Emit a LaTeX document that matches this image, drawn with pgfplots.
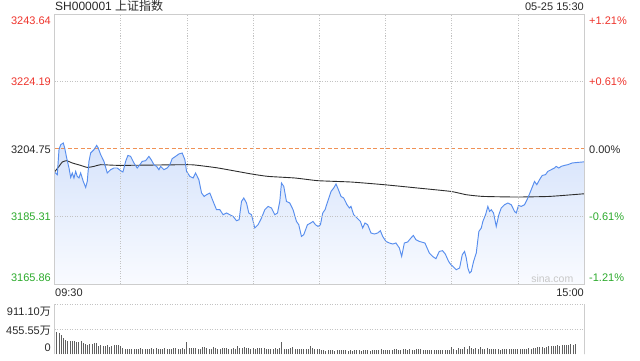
\documentclass[border=0pt]{standalone}
\usepackage{pgfplots}
\pgfplotsset{compat=1.18}
\usepackage{pgfplotstable}
\usepackage{fontspec}
\setmainfont{Liberation Sans}
\newfontfamily\cjk{Noto Sans CJK SC}
\definecolor{upred}{RGB}{238,52,44}
\definecolor{dngreen}{RGB}{44,170,44}
\definecolor{txt}{RGB}{40,40,40}
\definecolor{bordergray}{RGB}{205,205,205}
\definecolor{gridgray}{RGB}{195,195,195}
\definecolor{lineblue}{RGB}{88,142,238}
\definecolor{fillTop}{RGB}{214,227,251}
\definecolor{fillBot}{RGB}{249,251,255}
\definecolor{prevorange}{RGB}{240,145,85}
\definecolor{volgray}{RGB}{95,95,95}
\definecolor{avgline}{RGB}{45,45,45}
\definecolor{wm}{RGB}{200,200,200}

\pgfplotstableread{
m p
0 3198.12
1.27 3197.35
2.04 3204.55
2.81 3205.99
3.98 3206.48
4.62 3205.04
5.52 3202.16
6.57 3199.28
7.34 3196.57
8.06 3197.84
8.83 3196.40
9.60 3198.30
10.32 3196.86
11.09 3196.40
11.86 3197.84
13.04 3195.42
14.13 3193.69
14.85 3195.42
15.62 3201.18
16.39 3203.60
17.89 3204.55
19.11 3205.79
19.83 3205.04
20.92 3203.11
22.41 3201.18
23.91 3197.84
25.45 3198.79
26.94 3199.28
28.44 3199.28
29.98 3198.50
31.02 3198.12
32.24 3201.18
33.28 3202.91
34.50 3202.62
36.00 3200.72
37.49 3199.28
38.71 3200.23
39.76 3201.18
41.30 3201.38
42.79 3202.62
43.83 3201.67
45.05 3200.23
46.28 3199.74
47.32 3198.79
48.09 3199.74
49.58 3198.79
51.08 3199.28
52.30 3200.23
53.34 3201.96
54.88 3202.62
56.37 3203.31
57.87 3203.60
59.09 3201.67
59.86 3198.30
61.35 3196.86
62.85 3196.40
63.93 3197.84
65.43 3195.91
66.65 3192.07
67.83 3191.09
68.92 3191.58
70.41 3192.07
71.90 3189.65
73.44 3187.26
74.94 3187.26
76.43 3185.82
77.97 3186.31
79.47 3185.82
80.96 3185.33
82.50 3184.09
83.68 3184.38
84.76 3189.65
85.80 3190.63
87.03 3189.19
88.07 3186.31
89.29 3185.82
90.79 3181.99
92.28 3182.94
93.82 3184.87
95.32 3187.26
96.81 3188.21
98.35 3187.75
99.84 3185.82
101.07 3186.31
102.11 3189.65
102.88 3194.95
103.92 3193.98
105.14 3189.65
106.64 3189.19
108.13 3187.26
109.67 3183.89
110.71 3182.94
111.93 3179.57
112.97 3180.06
114.65 3182.94
116.14 3183.43
117.18 3183.89
118.27 3182.94
119.45 3182.45
120.54 3182.94
121.58 3186.31
122.62 3187.26
123.84 3189.65
125.34 3192.53
126.56 3193.51
127.60 3194.67
128.69 3193.02
129.86 3191.09
131.08 3190.63
132.58 3188.70
133.66 3187.75
134.39 3188.21
135.61 3185.82
137.11 3184.87
138.65 3183.89
139.69 3181.99
140.73 3183.43
141.95 3182.94
143.45 3180.55
144.99 3180.26
146.48 3180.55
147.70 3181.21
148.75 3179.57
150.24 3178.13
151.78 3177.67
153.27 3177.38
154.77 3177.67
156.31 3176.23
157.35 3173.81
158.57 3177.67
160.06 3177.96
161.56 3179.11
162.64 3179.86
163.82 3178.62
165.36 3178.13
167.89 3177.67
169.89 3174.79
171.38 3173.81
172.88 3173.15
174.42 3175.25
175.91 3175.45
177.13 3174.50
178.63 3172.37
179.67 3171.42
180.58 3170.93
182.11 3169.98
183.61 3170.47
184.83 3174.30
185.87 3175.25
186.64 3173.35
187.37 3170.47
188.14 3169.03
188.91 3169.49
189.95 3172.37
191.17 3174.79
192.35 3181.01
193.44 3181.99
194.16 3183.89
195.38 3185.82
196.43 3188.21
197.20 3186.77
197.96 3187.26
199.00 3186.31
200.23 3182.45
201.40 3185.82
202.49 3187.75
203.99 3188.70
205.48 3189.19
207.02 3188.70
208.51 3186.77
209.28 3186.31
210.32 3188.50
211.55 3188.21
213.04 3188.70
214.54 3190.63
216.08 3193.02
217.57 3195.42
218.61 3194.46
219.84 3195.91
221.06 3197.14
222.55 3197.35
223.59 3198.30
225.13 3198.79
226.63 3199.28
227.40 3199.74
228.57 3199.28
229.66 3199.74
231.16 3200.03
232.65 3200.23
234.64 3200.72
237.18 3200.89
239.17 3201.00
240 3201.05
}\pricedata

\pgfplotstableread{
m p
0 3198.12
2.04 3199.74
3.53 3201.00
5.52 3201.38
8.06 3200.72
11.86 3200.03
14.85 3199.45
17.89 3199.74
20.92 3200.23
29.98 3200.03
60.14 3200.23
65.11 3200.03
74.17 3199.28
89.29 3197.55
96.81 3196.86
108.90 3196.40
119.45 3195.62
134.39 3195.24
149.52 3194.46
164.60 3193.51
179.67 3192.53
186.64 3191.58
194.16 3191.09
209.28 3190.92
224.36 3191.09
240 3191.85
}\avgdata

\pgfplotstableread{
v
911
413
383
352
290
262
250
245
240
232
228
215
240
205
180
175
190
195
200
205
150
160
150
158
170
140
150
165
160
175
150
110
105
100
98
92
100
105
98
110
102
98
105
102
108
100
110
105
95
100
120
100
105
98
110
108
100
102
115
105
230
115
108
120
112
105
100
135
125
108
100
98
140
110
102
105
120
115
110
100
102
108
100
150
118
110
130
112
120
105
108
100
120
110
112
115
100
105
98
102
110
100
108
230
95
100
102
110
140
98
90
95
98
105
92
100
150
110
95
100
102
80
72
68
85
78
70
65
82
70
72
78
74
62
70
66
75
72
80
64
76
70
74
68
80
72
78
70
88
80
72
85
72
78
95
88
80
76
100
92
74
90
85
80
98
88
95
78
82
74
78
85
76
80
72
78
74
76
82
80
125
90
85
110
88
95
130
100
150
110
95
120
98
125
105
90
110
98
92
88
95
90
85
92
88
100
95
90
98
105
92
100
96
105
98
110
104
120
112
130
125
140
118
135
150
142
155
148
165
150
170
160
175
165
180
170
190
0
0
0
335
}\voldata

\begin{document}
\begin{tikzpicture}
\useasboundingbox (0pt,0pt) rectangle (640pt,360pt);

% ---------- price panel ----------
\begin{axis}[
  at={(54.5pt,76pt)}, anchor=south west,
  scale only axis, width=529.5pt, height=270pt,
  xmin=0, xmax=240, ymin=3165.86, ymax=3243.64,
  axis line style={bordergray, line width=0.8pt},
  xtick={30,60,90,120,150,180,210}, xticklabels={},
  ytick={3185.31,3224.19}, yticklabels={},
  major tick length=0pt,
  xmajorgrids, ymajorgrids,
  grid style={gridgray, dash pattern=on 1pt off 1.5pt, line width=0.6pt},
  axis on top,
]
\addplot[top color=fillTop, bottom color=fillBot, draw=none, forget plot] table[x=m, y=p] {\pricedata} -- (axis cs:240,3165.86) -- (axis cs:0,3165.86) -- cycle;
\addplot[prevorange, line width=1pt, dash pattern=on 4pt off 2.5pt, forget plot] coordinates {(0,3204.75) (240,3204.75)};
\addplot[avgline, line width=0.9pt, smooth, tension=0.3, forget plot] table[x=m, y=p] {\avgdata};
\addplot[lineblue, line width=0.95pt, forget plot] table[x=m, y=p] {\pricedata};
\end{axis}

% ---------- volume panel ----------
\begin{axis}[
  at={(54.5pt,5.7pt)}, anchor=south west,
  scale only axis, width=529.5pt, height=50.3pt,
  xmin=0, xmax=240, ymin=0, ymax=911.1,
  axis line style={draw=none},
  xtick=\empty,
  ytick={455.55,911.1}, yticklabels={},
  major tick length=0pt,
  ymajorgrids,
  grid style={gridgray, dash pattern=on 1pt off 1.5pt, line width=0.6pt},
]
\addplot[ycomb, volgray, line width=0.8pt, mark=none, forget plot] table[x expr=\coordindex, y=v] {\voldata};
\end{axis}
\draw[bordergray, line width=0.8pt] (54.5pt,5.7pt) -- (54.5pt,56pt);
\draw[bordergray, line width=0.8pt] (584pt,5.7pt) -- (584pt,56pt);

% ---------- texts ----------
\begin{scope}[every node/.style={inner sep=0pt, font=\fontsize{11}{13}\selectfont}]
\node[anchor=base west, text=txt, font=\fontsize{12}{14}\selectfont] at (55pt,349.3pt) {SH000001 {\cjk 上证指数}};
\node[anchor=base east, text=txt] at (584pt,349.3pt) {05-25 15:30};

\node[anchor=base east, text=upred] at (51pt,336pt) {3243.64};
\node[anchor=east, text=upred] at (51pt,278.4pt) {3224.19};
\node[anchor=east, text=txt] at (51pt,210.7pt) {3204.75};
\node[anchor=east, text=dngreen] at (51pt,143pt) {3185.31};
\node[anchor=base east, text=dngreen] at (51pt,79pt) {3165.86};

\node[anchor=base west, text=upred] at (589pt,336pt) {+1.21\%};
\node[anchor=west, text=upred] at (589pt,278.4pt) {+0.61\%};
\node[anchor=west, text=txt] at (589pt,210.7pt) {0.00\%};
\node[anchor=west, text=dngreen] at (589pt,143pt) {-0.61\%};
\node[anchor=base west, text=dngreen] at (589pt,79pt) {-1.21\%};

\node[anchor=base east, text=wm, font=\fontsize{10.5}{12}\selectfont] at (573.5pt,78pt) {sina.com};

\node[anchor=base west, text=txt] at (55pt,63.3pt) {09:30};
\node[anchor=base east, text=txt] at (584pt,63.3pt) {15:00};

\node[anchor=base east, text=txt] at (51pt,45pt) {911.10{\cjk 万}};
\node[anchor=base east, text=txt] at (51pt,26pt) {455.55{\cjk 万}};
\node[anchor=base east, text=txt] at (51pt,8.3pt) {0};
\end{scope}
\end{tikzpicture}
\end{document}
